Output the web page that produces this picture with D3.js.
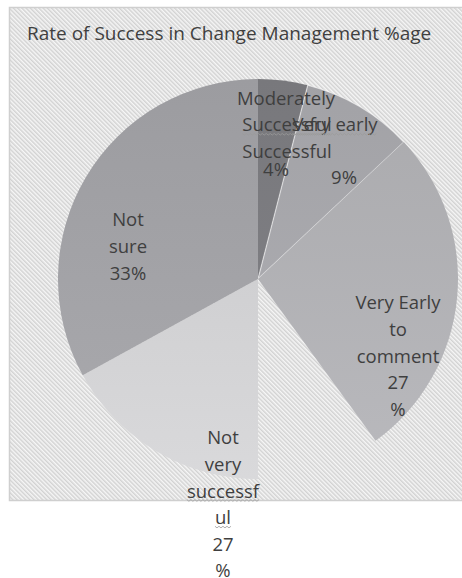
<!DOCTYPE html>
<html>
<head>
<meta charset="utf-8">
<script src="https://cdn.jsdelivr.net/npm/d3@7"></script>
<style>
  body { margin: 0; background: #fff; }
  svg { display: block; }
  text { font-family: "Open Sans", sans-serif; fill: #3f3f3f; }
</style>
</head>
<body>
<div id="chart"></div>
<script>
// Chart data
var title = 'Rate of Success in Change Management %age';
var categories = ['Moderately Successful', 'Very early Successful', 'Very Early to comment', 'Not very successful', 'Not sure'];
var values = [4, 9, 27, 27, 33];
var labelLines = [
  ['Moderately', 'Successful', '4%'],
  ['Very early', 'Successful', '9%'],
  ['Very Early', 'to', 'comment', '27', '%'],
  ['Not', 'very', 'successf', 'ul', '27', '%'],
  ['Not', 'sure', '33%']
];

// Layout / style
var width = 462, height = 578;
var cx = 258, cy = 279, radius = 200;
var sliceColors = ['#7d7d81', '#a9a9ad', '#b1b1b5', '#d0d0d2', '#a3a3a7'];
var lineStep = 26.6;
// label anchors (centre of each text line)
var labelPos = [
  [[286, 99], [287, 125], [276, 170]],
  [[335, 125], [287, 152], [344, 178]],
  [[398, 303]],
  [[223, 438]],
  [[128, 220]]
];
// spell-check squiggles: [label, line]
var squiggles = [[0, 1], [1, 0], [3, 2], [3, 3]];

var svg = d3.select('#chart').append('svg')
  .attr('width', width)
  .attr('height', height);

var defs = svg.append('defs');

var hatch = defs.append('pattern')
  .attr('id', 'hatch')
  .attr('patternUnits', 'userSpaceOnUse')
  .attr('width', 3)
  .attr('height', 3)
  .attr('patternTransform', 'rotate(-45)');
hatch.append('rect').attr('width', 3).attr('height', 3).attr('fill', '#f6f6f6');
hatch.append('rect').attr('width', 1.5).attr('height', 3).attr('fill', '#d2d2d2');

// light vertical shading on slices
sliceColors.forEach(function(c, i) {
  var grad = defs.append('linearGradient')
    .attr('id', 'grad' + i)
    .attr('gradientUnits', 'userSpaceOnUse')
    .attr('x1', 0).attr('y1', -radius)
    .attr('x2', 0).attr('y2', radius);
  grad.append('stop').attr('offset', '0%').attr('stop-color', d3.color(c).darker(0.12));
  grad.append('stop').attr('offset', '100%').attr('stop-color', d3.color(c).brighter(0.12));
});

defs.append('clipPath')
  .attr('id', 'clipLeft')
  .append('rect')
  .attr('x', -radius - 2)
  .attr('y', -radius - 2)
  .attr('width', radius + 2)
  .attr('height', radius * 2 + 4);

// chart area
svg.append('rect')
  .attr('x', 9.5)
  .attr('y', 7.5)
  .attr('width', width + 10)
  .attr('height', 493)
  .attr('fill', 'url(#hatch)')
  .attr('stroke', '#cfcfcf')
  .attr('stroke-width', 1.5);

svg.append('text')
  .attr('x', 27)
  .attr('y', 33)
  .attr('dy', '0.35em')
  .style('font-size', '19px')
  .text(title);

var pie = d3.pie().sort(null).value(function(d) { return d; });
var arc = d3.arc().innerRadius(0).outerRadius(radius);
var arcs = pie(values);

var g = svg.append('g')
  .attr('transform', 'translate(' + cx + ',' + cy + ')');

g.selectAll('path.slice')
  .data(arcs)
  .enter().append('path')
  .attr('class', 'slice')
  .attr('d', arc)
  .attr('fill', function(d, i) { return 'url(#grad' + i + ')'; })
  .attr('clip-path', function(d, i) { return i === 3 ? 'url(#clipLeft)' : null; })
  .attr('stroke', function(d, i) { return i === 1 ? 'rgba(255,255,255,0.55)' : 'none'; })
  .attr('stroke-width', 1.2);

// data labels
var labels = svg.append('g').style('font-size', '18.5px');
labelLines.forEach(function(lines, li) {
  var pos = labelPos[li];
  lines.forEach(function(t, k) {
    var p = pos[k] || [pos[0][0], pos[0][1] + k * lineStep];
    labels.append('text')
      .attr('class', 'lbl-' + li + '-' + k)
      .attr('x', p[0])
      .attr('y', p[1])
      .attr('dy', '0.35em')
      .attr('text-anchor', 'middle')
      .text(t);
  });
});

// wavy underlines
squiggles.forEach(function(s) {
  var node = labels.select('.lbl-' + s[0] + '-' + s[1]).node();
  var b = node.getBBox();
  var y = b.y + b.height - 3;
  var pts = [];
  for (var x = b.x; x <= b.x + b.width; x += 2) {
    pts.push([x, y + ((x - b.x) / 2 % 2 === 0 ? 0 : 1.6)]);
  }
  labels.append('path')
    .attr('d', d3.line()(pts))
    .attr('fill', 'none')
    .attr('stroke', '#9a9a9a')
    .attr('stroke-width', 0.8);
});
</script>
</body>
</html>
